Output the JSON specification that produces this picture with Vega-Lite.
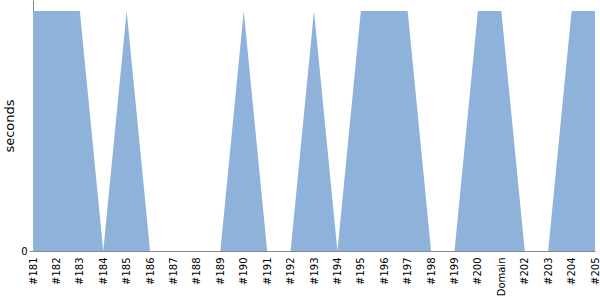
{
  "$schema": "https://vega.github.io/schema/vega-lite/v6.json",
  "width": 562,
  "height": 251,
  "padding": {"left": 3, "top": 0, "right": 5, "bottom": 0},
  "config": {"view": {"stroke": null}, "font": "DejaVu Sans"},
  "data": {"values": [
    {"build": "#181", "seconds": 1},
    {"build": "#182", "seconds": 1},
    {"build": "#183", "seconds": 1},
    {"build": "#184", "seconds": 0},
    {"build": "#185", "seconds": 1},
    {"build": "#186", "seconds": 0},
    {"build": "#187", "seconds": 0},
    {"build": "#188", "seconds": 0},
    {"build": "#189", "seconds": 0},
    {"build": "#190", "seconds": 1},
    {"build": "#191", "seconds": 0},
    {"build": "#192", "seconds": 0},
    {"build": "#193", "seconds": 1},
    {"build": "#194", "seconds": 0},
    {"build": "#195", "seconds": 1},
    {"build": "#196", "seconds": 1},
    {"build": "#197", "seconds": 1},
    {"build": "#198", "seconds": 0},
    {"build": "#199", "seconds": 0},
    {"build": "#200", "seconds": 1},
    {"build": "Domain", "seconds": 1},
    {"build": "#202", "seconds": 0},
    {"build": "#203", "seconds": 0},
    {"build": "#204", "seconds": 1},
    {"build": "#205", "seconds": 1}
  ]},
  "mark": {"type": "area", "color": "#8fb2da", "opacity": 1},
  "encoding": {
    "x": {
      "field": "build", "type": "ordinal", "sort": null,
      "scale": {"type": "point", "padding": 0},
      "axis": {"title": null, "labelAngle": -90, "labelFontSize": 10, "labelColor": "#000", "ticks": false, "labelPadding": 6, "domainColor": "#888", "grid": false}
    },
    "y": {
      "field": "seconds", "type": "quantitative",
      "scale": {"domain": [0, 1.046], "nice": false},
      "axis": {"title": "seconds", "titleFontSize": 13, "titleFontWeight": "normal", "titleColor": "#000", "values": [0], "labelFontSize": 10, "labelColor": "#000", "tickSize": 4, "tickColor": "#888", "domainColor": "#888", "grid": false, "titlePadding": 4}
    }
  }
}
